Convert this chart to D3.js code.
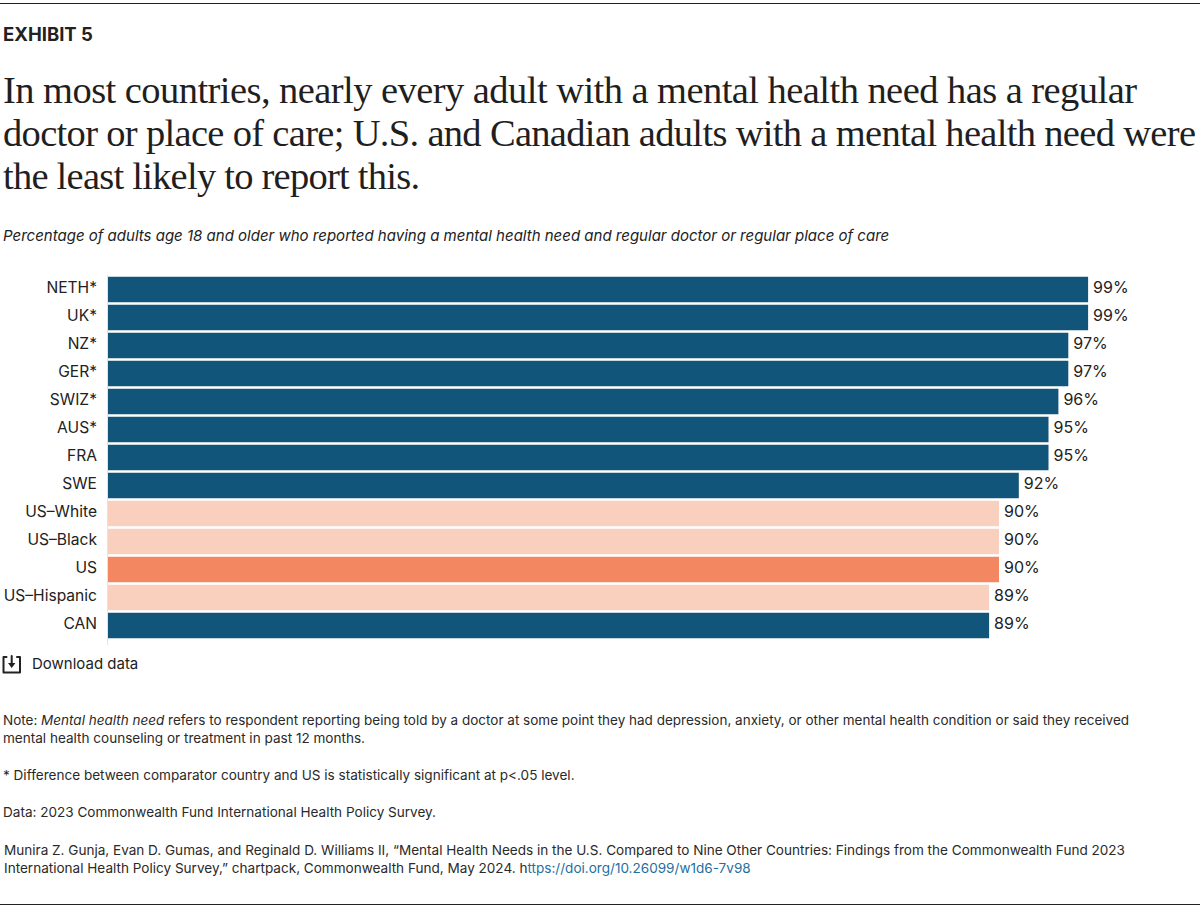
<!DOCTYPE html>
<html>
<head>
<meta charset="utf-8">
<script src="https://cdn.jsdelivr.net/npm/d3@7"></script>
<style>
  html, body { margin: 0; padding: 0; background: #fff; }
  svg { display: block; }
  text { font-family: Inter, "Noto Sans", sans-serif; fill: #222; }
  .title { font-family: "Liberation Serif", serif; font-size: 38.5px; fill: #1f1f1f; }
  .note { font-size: 13.55px; fill: #2a2a2a; }
</style>
</head>
<body>
<div id="chart"></div>
<script>
const countries = ["NETH*", "UK*", "NZ*", "GER*", "SWIZ*", "AUS*", "FRA", "SWE", "US–White", "US–Black", "US", "US–Hispanic", "CAN"]
const values = [99, 99, 97, 97, 96, 95, 95, 92, 90, 90, 90, 89, 89]
const groups = ["other", "other", "other", "other", "other", "other", "other", "other", "usSub", "usSub", "us", "usSub", "other"]

const titleLines = [
  "In most countries, nearly every adult with a mental health need has a regular",
  "doctor or place of care; U.S. and Canadian adults with a mental health need were",
  "the least likely to report this."
]
const titleWidths = [1134, 1193, 417]
const subtitle = "Percentage of adults age 18 and older who reported having a mental health need and regular doctor or regular place of care"

const data = countries.map((c, i) => ({country: c, value: values[i], group: groups[i]}))

const svg = d3.select("#chart").append("svg").attr("width", 1200).attr("height", 910)

// rules top and bottom
svg.append("rect").attr("x", 0).attr("y", 3).attr("width", 1200).attr("height", 1).attr("fill", "#222")
svg.append("rect").attr("x", 0).attr("y", 904).attr("width", 1200).attr("height", 1).attr("fill", "#222")

svg.append("text").attr("x", 3).attr("y", 41).attr("font-size", 18.5).attr("font-weight", 700).text("EXHIBIT 5")

svg.selectAll(".title").data(titleLines).join("text")
  .attr("class", "title")
  .attr("x", 3)
  .attr("y", (d, i) => 103 + i * 43)
  .attr("textLength", (d, i) => titleWidths[i])
  .attr("lengthAdjust", "spacing")
  .text(d => d)

svg.append("text").attr("x", 3).attr("y", 241).attr("font-size", 15.03).attr("font-style", "italic").text(subtitle)

// scales
const x = d3.scaleLinear().domain([0, 100]).range([108, 1098])
const y = d3.scaleBand().domain(countries).range([275.5, 639.5]).paddingInner(0.09).paddingOuter(0.045)
const color = d3.scaleOrdinal().domain(["other", "us", "usSub"]).range(["#12557a", "#f38761", "#f9cfbe"])

svg.append("line").attr("x1", 107.5).attr("x2", 107.5).attr("y1", 275).attr("y2", 645).attr("stroke", "#e4e4e4")

svg.selectAll(".bar").data(data).join("rect")
  .attr("class", "bar")
  .attr("x", x(0))
  .attr("y", d => y(d.country))
  .attr("width", d => x(d.value) - x(0))
  .attr("height", y.bandwidth())
  .attr("fill", d => color(d.group))

svg.selectAll(".cat").data(data).join("text")
  .attr("class", "cat")
  .attr("x", 97)
  .attr("y", d => y(d.country) + y.bandwidth() / 2 - 2)
  .attr("dy", "0.35em")
  .attr("text-anchor", "end")
  .attr("font-size", 15.6)
  .text(d => d.country)

svg.selectAll(".val").data(data).join("text")
  .attr("class", "val")
  .attr("x", d => x(d.value) + 5)
  .attr("y", d => y(d.country) + y.bandwidth() / 2 - 2)
  .attr("dy", "0.35em")
  .attr("font-size", 16)
  .text(d => d.value + "%")

// download icon
const icon = svg.append("g").attr("fill", "none").attr("stroke", "#222").attr("stroke-width", 2).attr("stroke-linejoin", "round").attr("stroke-linecap", "round")
icon.append("path").attr("d", "M6.5 657H3.5V672.5H20V657H17")
icon.append("path").attr("d", "M11.7 656V664")
icon.append("path").attr("d", "M8 663H15.4L11.7 668Z").attr("fill", "#222").attr("stroke", "none")
svg.append("text").attr("x", 32).attr("y", 669).attr("font-size", 15).text("Download data")

// notes
const note1 = svg.append("text").attr("class", "note").attr("x", 3).attr("y", 725).attr("font-size", 13.5).style("font-size", "13.5px")
note1.append("tspan").text("Note: ")
note1.append("tspan").attr("font-style", "italic").text("Mental health need")
note1.append("tspan").text(" refers to respondent reporting being told by a doctor at some point they had depression, anxiety, or other mental health condition or said they received")
svg.append("text").attr("class", "note").attr("x", 3).attr("y", 743).text("mental health counseling or treatment in past 12 months.")
svg.append("text").attr("class", "note").attr("x", 3).attr("y", 780).text("* Difference between comparator country and US is statistically significant at p<.05 level.")
svg.append("text").attr("class", "note").attr("x", 3).attr("y", 817).text("Data: 2023 Commonwealth Fund International Health Policy Survey.")
svg.append("text").attr("class", "note").attr("x", 4).attr("y", 855).text("Munira Z. Gunja, Evan D. Gumas, and Reginald D. Williams II, “Mental Health Needs in the U.S. Compared to Nine Other Countries: Findings from the Commonwealth Fund 2023")
const cite = svg.append("text").attr("class", "note").attr("x", 4).attr("y", 873)
cite.append("tspan").text("International Health Policy Survey,” chartpack, Commonwealth Fund, May 2024. h")
cite.append("tspan").style("fill", "#1f6f9f").text("ttps://doi.org/10.26099/w1d6-7v98")
</script>
</body>
</html>
